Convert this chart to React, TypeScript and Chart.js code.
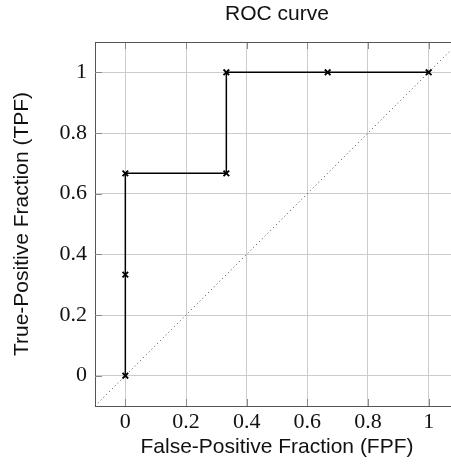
import React, { useEffect, useRef } from "react";
import { Chart, registerables } from "chart.js";

Chart.register(...registerables);

const FPF = [0, 0, 0, 0.333, 0.333, 0.667, 1];
const TPF = [0, 0.333, 0.667, 0.667, 1, 1, 1];
const DIAG_X = [-0.1, 1.1];
const DIAG_Y = [-0.1, 1.1];
const X_TICKS = [0, 0.2, 0.4, 0.6, 0.8, 1];
const Y_TICKS = [0, 0.2, 0.4, 0.6, 0.8, 1];
const TITLE = "ROC curve";
const X_TITLE = "False-Positive Fraction (FPF)";
const Y_TITLE = "True-Positive Fraction (TPF)";

const W = 470;
const H = 468;

const fmt = (v: number) => (v === 0 || v === 1 ? String(v) : v.toFixed(1));

const framePlugin = {
  id: "frame",
  beforeDatasetsDraw(chart: any) {
    const { ctx, chartArea } = chart;
    const { left, right, top, bottom } = chartArea;
    const xs = chart.scales.x;
    const ys = chart.scales.y;
    const len = 7;
    ctx.save();
    ctx.lineWidth = 1;
    ctx.strokeStyle = "#8a8a8a";
    ctx.beginPath();
    for (const v of X_TICKS) {
      const px = Math.round(xs.getPixelForValue(v)) + 0.5;
      ctx.moveTo(px, top);
      ctx.lineTo(px, top + len);
      ctx.moveTo(px, bottom);
      ctx.lineTo(px, bottom - len);
    }
    for (const v of Y_TICKS) {
      const py = Math.round(ys.getPixelForValue(v)) + 0.5;
      ctx.moveTo(left, py);
      ctx.lineTo(left + len, py);
    }
    ctx.stroke();
    ctx.strokeStyle = "#555555";
    ctx.beginPath();
    const ty = Math.round(top) + 0.5;
    ctx.moveTo(left, ty);
    ctx.lineTo(right, ty);
    ctx.stroke();
    ctx.restore();
  },
};

export default function App() {
  const ref = useRef<HTMLCanvasElement | null>(null);
  useEffect(() => {
    if (!ref.current) return;
    document.documentElement.style.overflow = "hidden";
    document.body.style.overflow = "hidden";
    const chart = new Chart(ref.current, {
      type: "scatter",
      data: {
        datasets: [
          {
            data: FPF.map((x, i) => ({ x, y: TPF[i] })),
            showLine: true,
            borderColor: "#000",
            backgroundColor: "#000",
            borderWidth: 1.5,
            pointStyle: "crossRot",
            pointRadius: 4,
            pointBorderWidth: 1.8,
            pointBorderColor: "#000",
            order: 0,
          },
          {
            data: DIAG_X.map((x, i) => ({ x, y: DIAG_Y[i] })),
            showLine: true,
            borderColor: "#444",
            borderWidth: 1,
            borderDash: [1, 3],
            pointRadius: 0,
            order: 1,
          },
        ],
      },
      plugins: [framePlugin],
      options: {
        responsive: false,
        animation: false,
        layout: { padding: { left: 0, right: 11, top: 0, bottom: 0 } },
        plugins: {
          legend: { display: false },
          tooltip: { enabled: false },
          title: {
            display: true,
            text: TITLE,
            fullSize: false,
            color: "#111",
            font: { family: "Liberation Sans", size: 21, weight: "normal" },
            padding: { top: 2.1, bottom: 14.7 },
          },
        },
        scales: {
          x: {
            type: "linear",
            min: -0.1,
            max: 1.1,
            afterBuildTicks: (s: any) => {
              s.ticks = X_TICKS.map((v) => ({ value: v }));
            },
            afterFit: (s: any) => {
              s.height = 62;
            },
            ticks: {
              callback: (v: any) => fmt(Number(v)),
              color: "#111",
              padding: 3,
              maxRotation: 0,
              font: { family: "Liberation Serif", size: 22 },
            },
            grid: { color: "#cccccc", lineWidth: 1, drawTicks: false },
            border: { display: true, color: "#555555", width: 1 },
            title: {
              display: true,
              text: X_TITLE,
              color: "#111",
              font: { family: "Liberation Sans", size: 21 },
              padding: { top: 0, bottom: 8.4 },
            },
          },
          y: {
            type: "linear",
            min: -0.1,
            max: 1.1,
            afterBuildTicks: (s: any) => {
              s.ticks = Y_TICKS.map((v) => ({ value: v }));
            },
            afterFit: (s: any) => {
              s.width = 95;
            },
            ticks: {
              callback: (v: any) => fmt(Number(v)),
              color: "#111",
              padding: 8,
              font: { family: "Liberation Serif", size: 22 },
            },
            grid: { color: "#cccccc", lineWidth: 1, drawTicks: false },
            border: { display: true, color: "#555555", width: 1 },
            title: {
              display: true,
              text: Y_TITLE,
              color: "#111",
              font: { family: "Liberation Sans", size: 21 },
              padding: { top: 9.4, bottom: 0 },
            },
          },
        },
      },
    });
    return () => chart.destroy();
  }, []);
  return (
    <canvas
      ref={ref}
      width={W}
      height={H}
      style={{ position: "absolute", left: 0, top: 0, display: "block", width: W, height: H }}
    />
  );
}
